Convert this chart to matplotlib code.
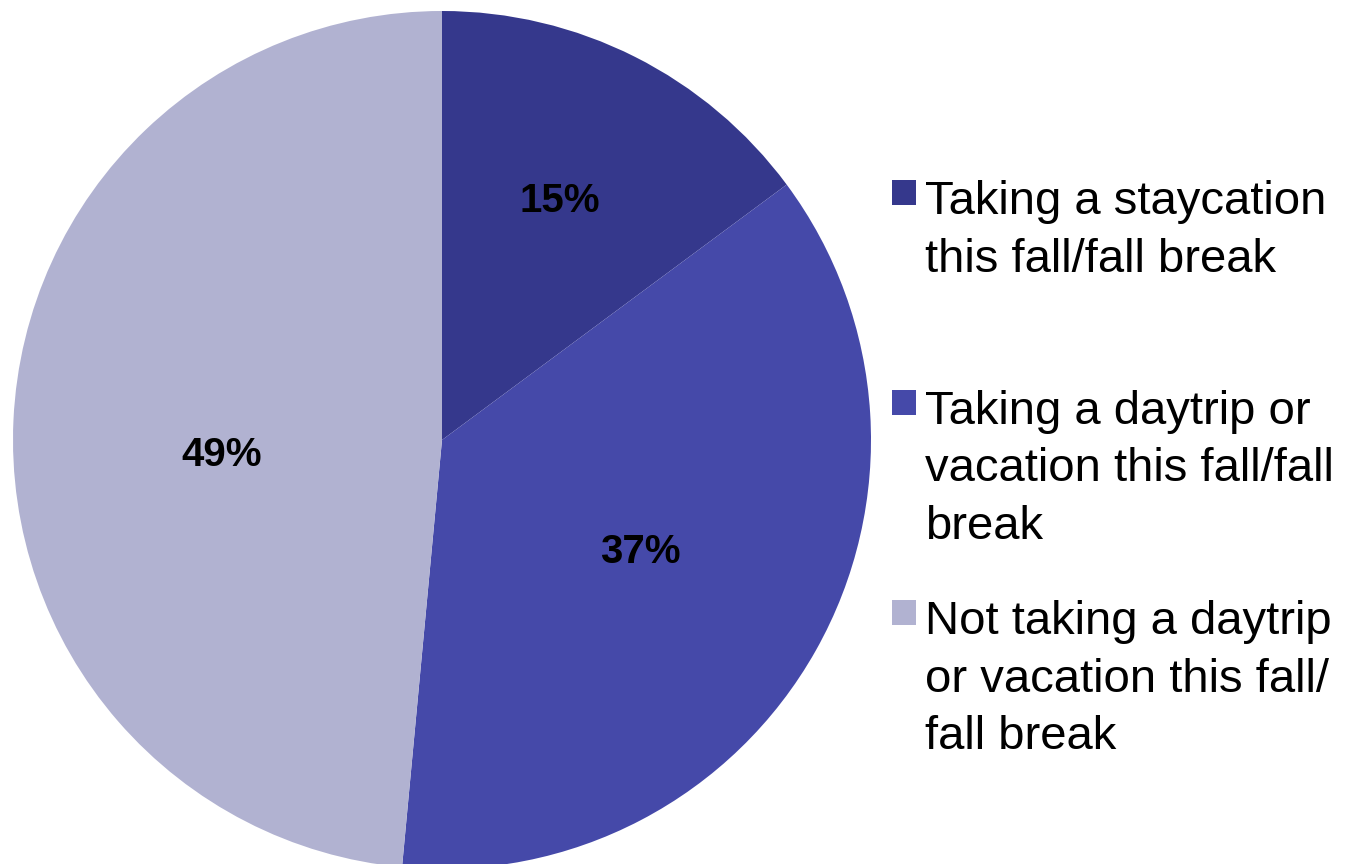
import matplotlib
matplotlib.use("Agg")
import matplotlib.pyplot as plt
from matplotlib.patches import Rectangle
import numpy as np

plt.rcParams['font.family'] = ['Liberation Sans', 'DejaVu Sans']

categories = [
    "Taking a staycation\nthis fall/fall break",
    "Taking a daytrip or\nvacation this fall/fall\nbreak",
    "Not taking a daytrip\nor vacation this fall/\nfall break",
]
values = [15, 37, 49]
colors = ["#35388C", "#4549A9", "#B1B2D1"]

# label placement inside each wedge: radial fraction and angular nudge (deg)
label_dist = [0.62, 0.53, 0.515]
label_nudge = [0.5, 0.0, 6.5]

W, H = 1351, 864
fig = plt.figure(figsize=(W / 100, H / 100), dpi=100)
cx, cy, r = 442, 440, 429
ax = fig.add_axes([(cx - r) / W, (H - cy - r) / H, 2 * r / W, 2 * r / H])

wedges, _ = ax.pie(values, colors=colors, startangle=90, counterclock=False,
                   radius=1.0, wedgeprops=dict(linewidth=0))
ax.set_xlim(-1, 1)
ax.set_ylim(-1, 1)
ax.set_aspect('equal')
ax.axis('off')

total = sum(values)
for w, v, d, n in zip(wedges, values, label_dist, label_nudge):
    mid = np.deg2rad((w.theta1 + w.theta2) / 2 + n)
    ax.text(d * np.cos(mid), d * np.sin(mid), f"{round(100 * v / total)}%",
            ha='center', va='center', fontsize=29, fontweight='bold', color='black')

# legend: square swatch beside the first line of each wrapped label
first_baselines = [214, 424, 634]
line_step = 57.5
for label, col, b in zip(categories, colors, first_baselines):
    fig.patches.append(Rectangle((892 / W, 1 - (b - 9) / H), 24 / W, 25 / H,
                                 transform=fig.transFigure, facecolor=col,
                                 edgecolor='none'))
    for i, line in enumerate(label.split("\n")):
        fig.text(925 / W, 1 - (b + i * line_step) / H, line, ha='left',
                 va='baseline', fontsize=34, color='black')

fig.savefig("out.png", dpi=100)
